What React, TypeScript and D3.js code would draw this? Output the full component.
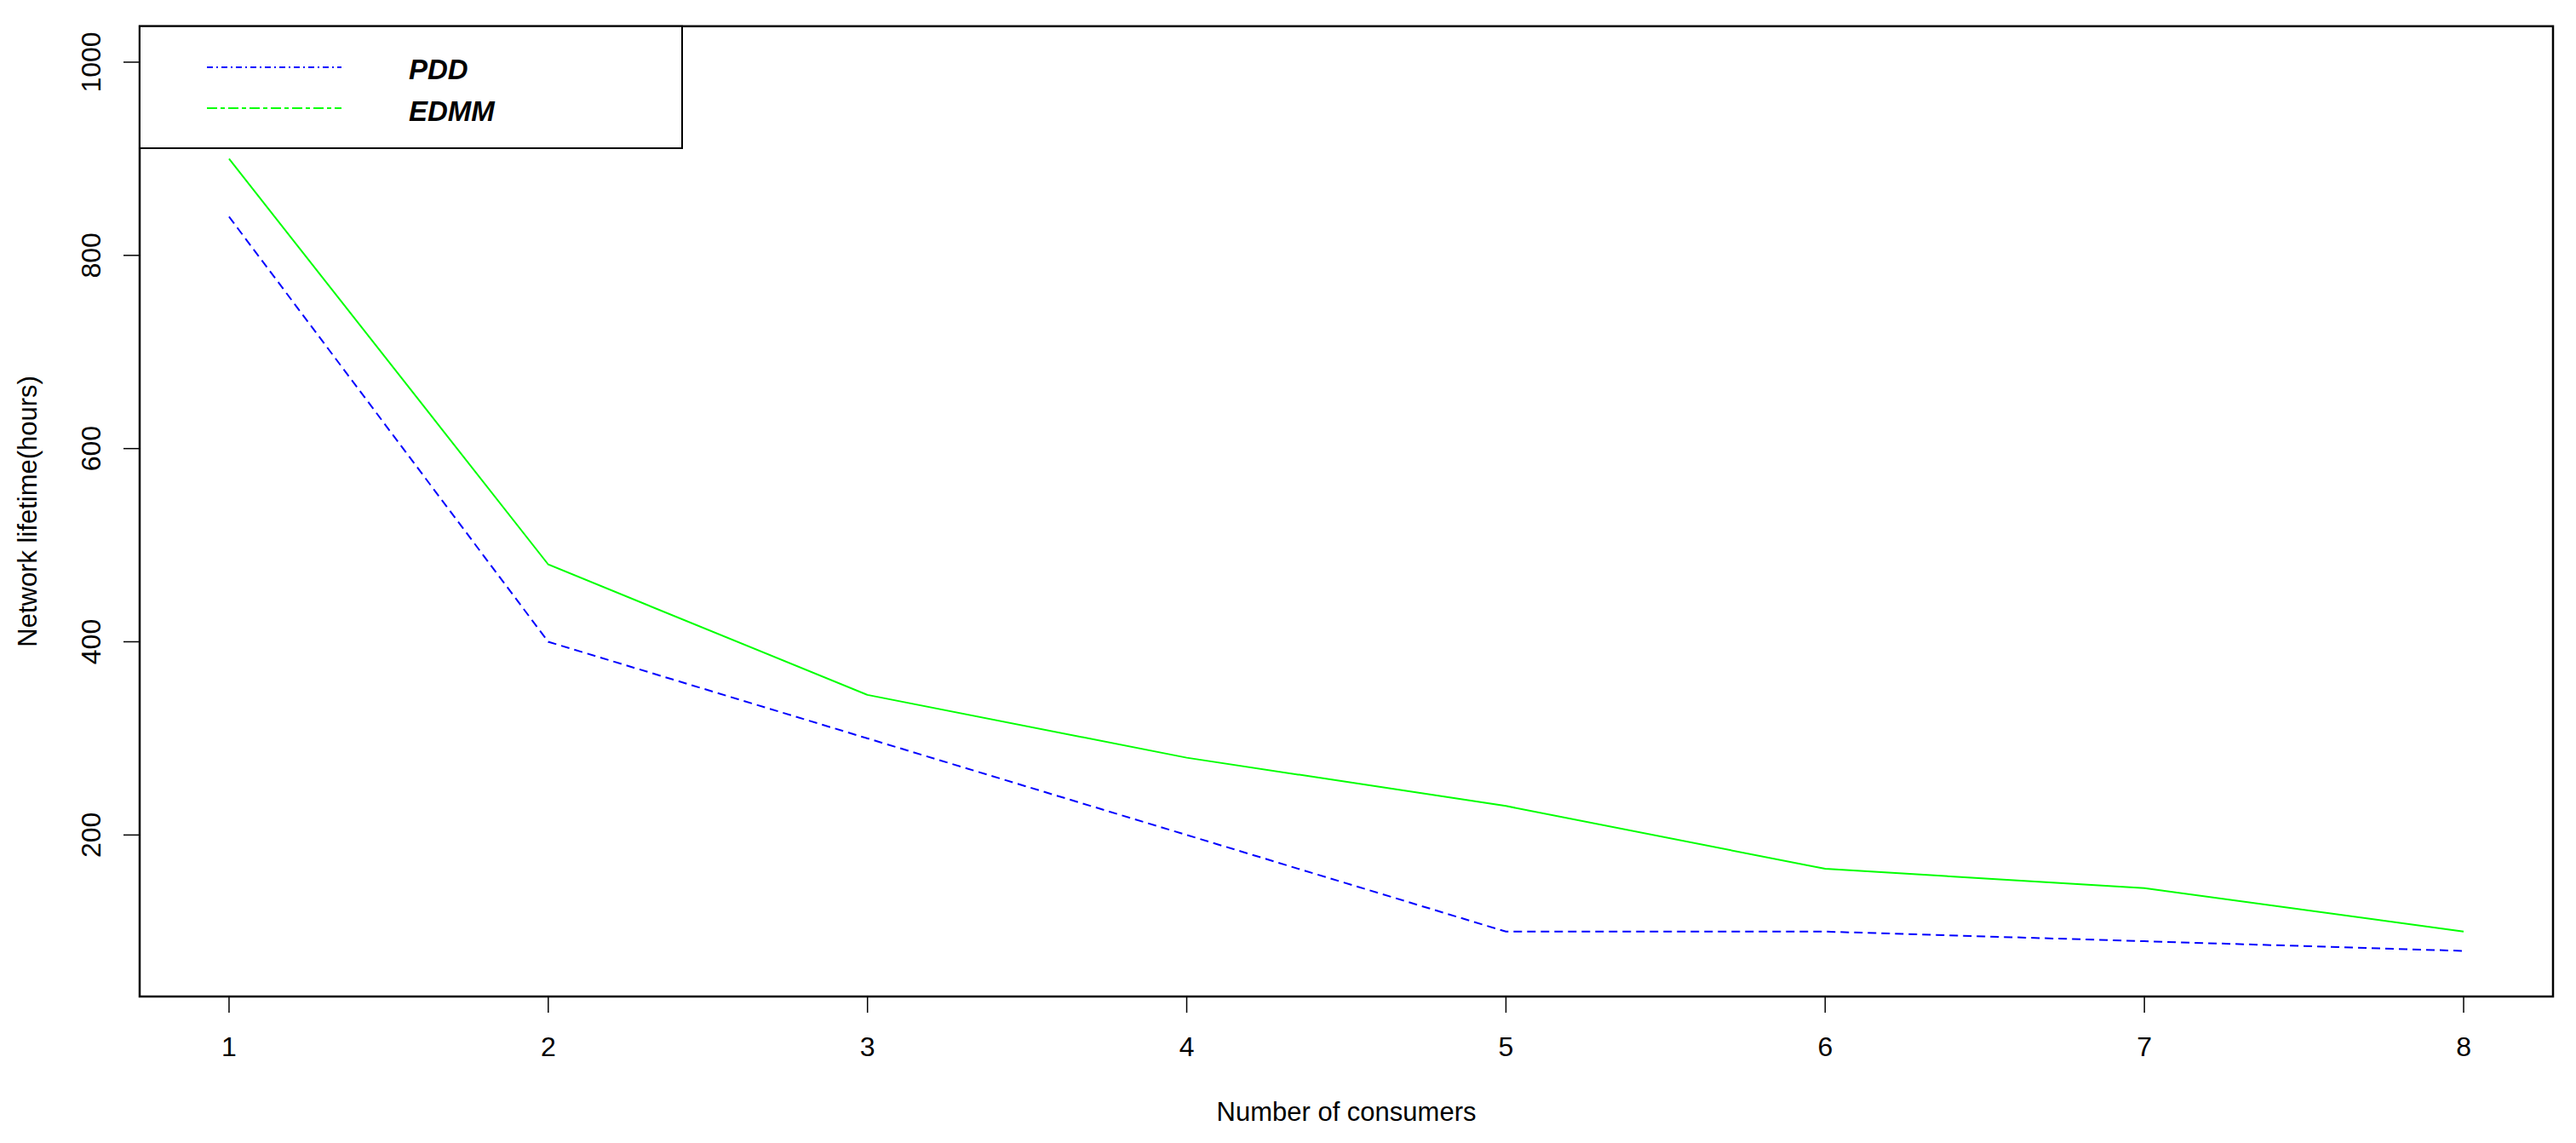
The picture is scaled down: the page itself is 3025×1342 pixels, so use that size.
import React from "react";
import * as d3 from "d3";

const consumers = [1, 2, 3, 4, 5, 6, 7, 8];
const pddValues = [840, 400, 300, 200, 100, 100, 90, 80];
const edmmValues = [900, 480, 345, 280, 230, 165, 145, 100];
const yTicks = [200, 400, 600, 800, 1000];
const xTicks = [1, 2, 3, 4, 5, 6, 7, 8];
const seriesNames = ["PDD", "EDMM"];
const xTitle = "Number of consumers";
const yTitle = "Network lifetime(hours)";

const W = 3025;
const H = 1342;
const FONT = "'Liberation Sans', Arial, sans-serif";

export default function App() {
  const left = 164, right = 2998, top = 30.8, bottom = 1170;
  const xExt = (8 - 1) * 0.04;
  const yMin = 70, yMax = 1000;
  const yExt = (yMax - yMin) * 0.04;
  const x = d3.scaleLinear().domain([1 - xExt, 8 + xExt]).range([left, right]);
  const y = d3.scaleLinear().domain([yMin - yExt, yMax + yExt]).range([bottom, top]);

  const line = d3
    .line<number>()
    .x((_, i) => x(consumers[i]))
    .y((d) => y(d));

  const legendX0 = 243, legendX1 = 401;
  const legendTextX = 480;
  const legendRows = [
    { name: seriesNames[0], color: "#0000ff", dash: "7 4 2 4", ly: 79, ty: 93 },
    { name: seriesNames[1], color: "#00ff00", dash: "12 4 5 4", ly: 127, ty: 141.5 },
  ];

  return (
    <svg
      width={W}
      height={H}
      style={{ position: "absolute", left: 0, top: 0, display: "block", background: "#fff" }}
      fontFamily={FONT}
    >
      <rect x={0} y={0} width={W} height={H} fill="#fff" />
      {/* data lines */}
      <path d={line(pddValues) || ""} fill="none" stroke="#0000ff" strokeWidth={2} strokeDasharray="10 6" />
      <path d={line(edmmValues) || ""} fill="none" stroke="#00ff00" strokeWidth={2} />

      {/* plot box */}
      <rect x={left} y={top} width={right - left} height={bottom - top} fill="none" stroke="#000" strokeWidth={2.5} />

      {/* x axis */}
      {xTicks.map((t) => (
        <g key={"x" + t}>
          <line x1={x(t)} x2={x(t)} y1={bottom} y2={bottom + 19} stroke="#000" strokeWidth={1.5} />
          <text x={x(t)} y={1240} textAnchor="middle" fontSize={32} fill="#000">
            {t}
          </text>
        </g>
      ))}
      <text x={(left + right) / 2} y={1316} textAnchor="middle" fontSize={31} fill="#000">
        {xTitle}
      </text>

      {/* y axis */}
      {yTicks.map((t) => (
        <g key={"y" + t}>
          <line x1={left - 19} x2={left} y1={y(t)} y2={y(t)} stroke="#000" strokeWidth={1.5} />
          <text
            transform={`translate(118,${y(t)}) rotate(-90)`}
            textAnchor="middle"
            fontSize={32}
            fill="#000"
          >
            {t}
          </text>
        </g>
      ))}
      <text
        transform={`translate(43,${(top + bottom) / 2}) rotate(-90)`}
        textAnchor="middle"
        fontSize={31}
        fill="#000"
      >
        {yTitle}
      </text>

      {/* legend */}
      <rect x={left} y={top} width={801 - left} height={174 - top} fill="#fff" stroke="#000" strokeWidth={2} />
      {legendRows.map((r) => (
        <g key={r.name}>
          <line x1={legendX0} x2={legendX1} y1={r.ly} y2={r.ly} stroke={r.color} strokeWidth={2} strokeDasharray={r.dash} />
          <text x={legendTextX} y={r.ty} fontSize={33} fontWeight="bold" fontStyle="italic" fill="#000">
            {r.name}
          </text>
        </g>
      ))}
    </svg>
  );
}
